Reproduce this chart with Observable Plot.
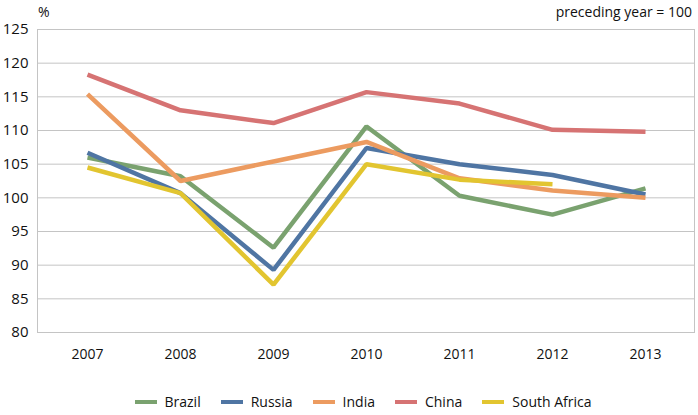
<!DOCTYPE html>
<html>
<head>
<meta charset="utf-8">
<script src="https://cdn.jsdelivr.net/npm/d3@7"></script>
<script src="https://cdn.jsdelivr.net/npm/@observablehq/plot@0.6"></script>
<style>
  html, body { margin: 0; padding: 0; background: #fff; }
  #wrap { position: relative; width: 698px; height: 415px; font-family: "Open Sans", sans-serif; }
  #legend { position: absolute; left: 14px; top: 392px; width: 698px; display: flex; justify-content: center; font-size: 14px; color: #111; }
  .item { display: flex; align-items: center; margin: 0 10px; }
  .sw { width: 22px; height: 4px; margin-right: 8px; }
  #unit { position: absolute; left: 38px; top: 2px; font-size: 14px; color: #111; }
  #note { position: absolute; right: 6px; top: 2px; font-size: 14px; color: #111; }
</style>
</head>
<body>
<div id="wrap">
  <div id="unit">%</div>
  <div id="note">preceding year = 100</div>
  <div id="legend"></div>
</div>
<script>
const years = ["2007", "2008", "2009", "2010", "2011", "2012", "2013"];
const countries = ["Brazil", "Russia", "India", "China", "South Africa"];
const colors = ["#7aa26f", "#4f75a3", "#ec9b60", "#d67373", "#e2c530"];
const brazil = [106.0, 103.2, 92.6, 110.6, 100.3, 97.5, 101.4];
const russia = [106.7, 100.7, 89.3, 107.4, 105.0, 103.4, 100.5];
const india = [115.4, 102.5, 105.4, 108.3, 102.9, 101.1, 100.0];
const china = [118.3, 113.0, 111.1, 115.7, 114.0, 110.1, 109.8];
const southAfrica = [104.5, 100.7, 87.1, 105.0, 102.7, 102.0, null];
const yTicks = [80, 85, 90, 95, 100, 105, 110, 115, 120, 125];

const series = [brazil, russia, india, china, southAfrica];
const data = [];
series.forEach((vals, i) => vals.forEach((v, j) => {
  if (v != null) data.push({country: countries[i], year: years[j], value: v});
}));

const chart = Plot.plot({
  width: 698,
  height: 415,
  marginLeft: 37,
  marginRight: 4,
  marginTop: 29,
  marginBottom: 83,
  style: {fontFamily: "'Open Sans', sans-serif", fontSize: "14px", color: "#111", background: "transparent"},
  x: {type: "point", domain: years, padding: 0.5, label: null},
  y: {domain: [80, 125], label: null},
  color: {domain: countries, range: colors},
  marks: [
    Plot.ruleY(yTicks, {stroke: "#c4c4c4", strokeWidth: 1}),
    Plot.frame({anchor: "left", stroke: "#c4c4c4"}),
    Plot.frame({anchor: "right", stroke: "#c4c4c4"}),
    Plot.axisY({ticks: yTicks, tickSize: 0, tickPadding: 9, fontSize: 15, label: null}),
    Plot.axisX({tickSize: 0, tickPadding: 17, fontSize: 14, label: null}),
    Plot.line(data, {x: "year", y: "value", z: "country", stroke: "country", strokeWidth: 4.5, strokeLinejoin: "miter", strokeLinecap: "butt"})
  ]
});
document.getElementById("wrap").prepend(chart);

const legend = document.getElementById("legend");
countries.forEach((c, i) => {
  const it = document.createElement("div");
  it.className = "item";
  const sw = document.createElement("span");
  sw.className = "sw";
  sw.style.background = colors[i];
  const t = document.createElement("span");
  t.textContent = c;
  it.appendChild(sw); it.appendChild(t);
  legend.appendChild(it);
});
</script>
</body>
</html>
